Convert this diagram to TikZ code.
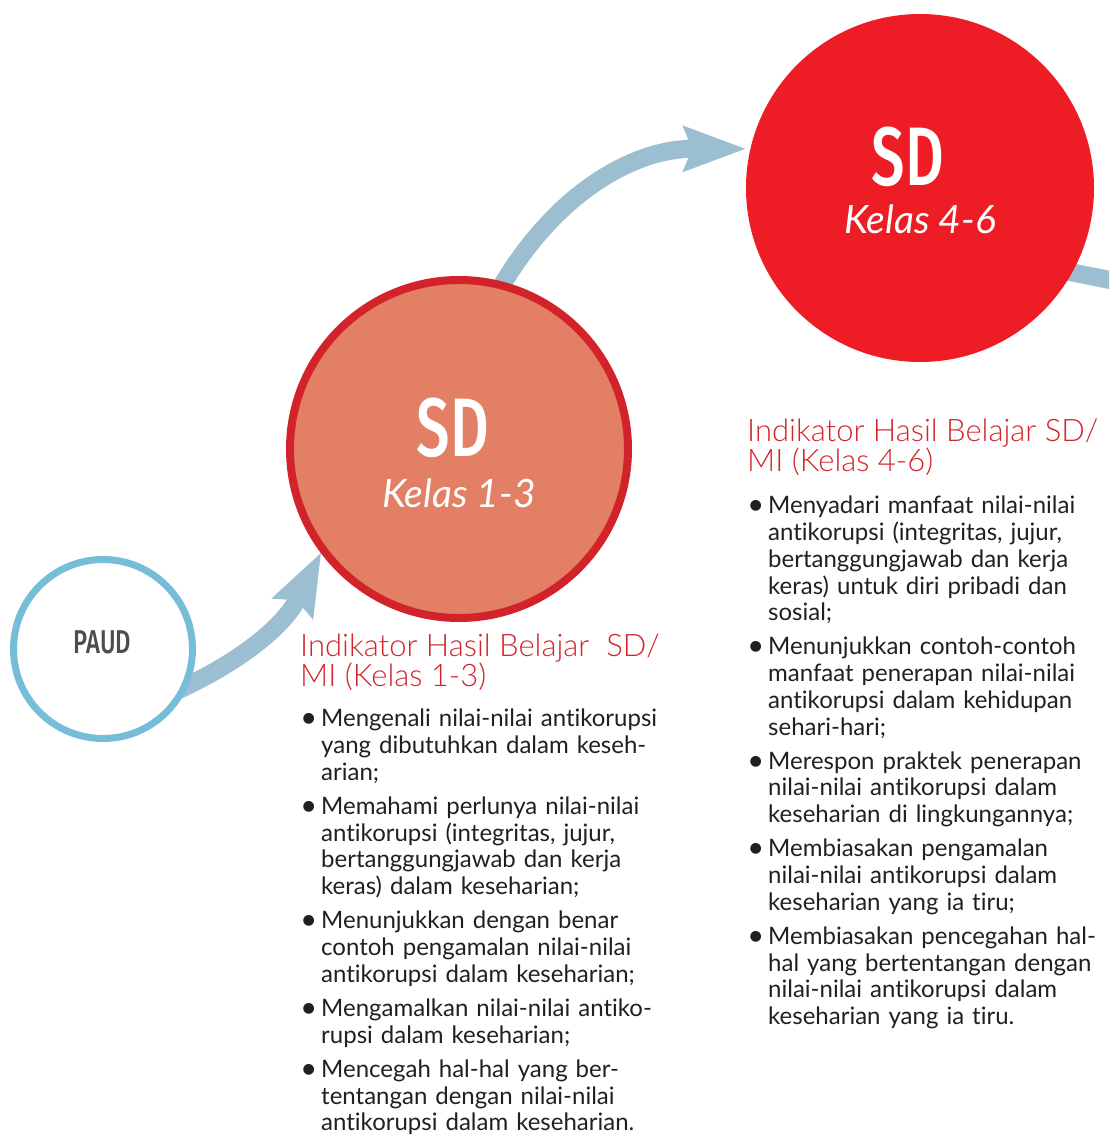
\documentclass[tikz,border=0pt]{standalone}
\usepackage{fontspec}
\setmainfont{Lato}[Ligatures=CommonOff]
\newfontfamily\lightfont{Lato Light}[Ligatures=CommonOff]
\newfontfamily\condfont[FakeStretch=0.72]{Fira Sans Medium}
\usetikzlibrary{positioning,arrows.meta,backgrounds}

\definecolor{paudblue}{HTML}{76BDD8}
\definecolor{flowblue}{HTML}{9BBFD0}
\definecolor{sdlight}{HTML}{E27F64}
\definecolor{sdring}{HTML}{D2232A}
\definecolor{sdred}{HTML}{EE1D25}
\definecolor{headred}{HTML}{D2232A}
\definecolor{bodytext}{HTML}{231F20}
\definecolor{paudtext}{HTML}{4D4D4F}

\newenvironment{indikator}{%
  \begin{list}{\llap{\raisebox{-1pt}{\fontsize{29}{29}\selectfont\textbullet}\kern4pt}}{%
    \setlength{\leftmargin}{15pt}\setlength{\labelwidth}{0pt}%
    \setlength{\labelsep}{0pt}\setlength{\itemsep}{7.5pt}%
    \setlength{\parsep}{0pt}\setlength{\topsep}{0pt}%
    \setlength{\partopsep}{0pt}}}%
  {\end{list}}

\tikzset{
  flow/.style={draw=flowblue, line width=18pt,
    -{Stealth[length=63pt, width=47pt, inset=10pt, line width=0pt]}},
  paudring/.style={circle, draw=paudblue, line width=7pt, fill=white,
    minimum size=179pt, inner sep=0pt},
  lowring/.style={circle, draw=sdring, line width=8pt, fill=sdlight,
    minimum size=338pt, inner sep=0pt},
  highdisc/.style={circle, fill=sdred, minimum size=348pt, inner sep=0pt},
  sdtitle/.style={text=white, inner sep=0pt,
    font=\condfont\fontsize{83}{83}\selectfont},
  kelas/.style={text=white, inner sep=0pt,
    font=\itshape\fontsize{39}{39}\selectfont},
  paudlabel/.style={text=paudtext, inner sep=0pt,
    font=\condfont\fontsize{33}{33}\selectfont},
  heading/.style={anchor=north west, inner sep=0pt, align=left,
    text=headred, font=\lightfont\fontsize{31}{29.5}\selectfont},
  indlist/.style={anchor=north west, inner sep=0pt, text width=420pt,
    align=left, text=bodytext, font=\fontsize{24}{26.7}\selectfont}
}

\begin{document}
\begin{tikzpicture}[x=1pt, y=1pt]

    \useasboundingbox (0,0) rectangle (1109,-1135);

    % PAUD
    \node[paudring] (paud) at (103,-649) {};
    \node[paudlabel, anchor=base] (paudname) at (102.5,-653) {PAUD};

    % SD kelas 1-3
    \node[lowring] (sdlow) at (459,-449) {};
    \node[sdtitle, anchor=base] (sdlowname) at (453,-456) {SD};
    \node[kelas, anchor=base] (sdlowkelas) at (459,-507) {Kelas 1-3};

    % SD kelas 4-6
    \node[highdisc] (sdhigh) at (920,-188) {};
    \node[sdtitle, anchor=base] (sdhighname) at (908,-185) {SD};
    \node[kelas, anchor=base] (sdhighkelas) at (920,-233) {Kelas 4-6};

    % arrows between the stages
    \begin{scope}[on background layer]
        \clip (0,0) rectangle (1109,-1135);
        \draw[flow, shorten <=-12pt] (paud.-23) to[out=25, in=243] (sdlow.217);
        \draw[flow, shorten <=-10pt] (sdlow.75) to[out=60, in=180] ([xshift=-5pt]sdhigh.167);
        \coordinate (next) at (1160,-290);
        \draw[flow, -, shorten <=-10pt] (sdhigh.-29) -- (next);
    \end{scope}

    % indikator kelas 1-3
    \node[heading] (head13) at (300,-634) {Indikator Hasil Belajar~ SD/\\MI (Kelas 1-3)};
    \node[indlist] (list13) at (306,-700) {\begin{indikator}
        \item Mengenali nilai-nilai antikorupsi\\yang dibutuhkan dalam keseh-\\arian;
        \item Memahami perlunya nilai-nilai\\antikorupsi (integritas, jujur,\\bertanggungjawab dan kerja\\keras) dalam keseharian;
        \item Menunjukkan dengan benar\\contoh pengamalan nilai-nilai\\antikorupsi dalam keseharian;
        \item Mengamalkan nilai-nilai antiko-\\rupsi dalam keseharian;
        \item Mencegah hal-hal yang ber-\\tentangan dengan nilai-nilai\\antikorupsi dalam keseharian.
    \end{indikator}};

    % indikator kelas 4-6
    \node[heading] (head46) at (747,-419) {Indikator Hasil Belajar SD/\\MI (Kelas 4-6)};
    \node[indlist] (list46) at (753,-487) {\begin{indikator}
        \item Menyadari manfaat nilai-nilai\\antikorupsi (integritas, jujur,\\bertanggungjawab dan kerja\\keras) untuk diri pribadi dan\\sosial;
        \item Menunjukkan contoh-contoh\\manfaat penerapan nilai-nilai\\antikorupsi dalam kehidupan\\sehari-hari;
        \item Merespon praktek penerapan\\nilai-nilai antikorupsi dalam\\keseharian di lingkungannya;
        \item Membiasakan pengamalan\\nilai-nilai antikorupsi dalam\\keseharian yang ia tiru;
        \item Membiasakan pencegahan hal-\\hal yang bertentangan dengan\\nilai-nilai antikorupsi dalam\\keseharian yang ia tiru.
    \end{indikator}};

\end{tikzpicture}
\end{document}
